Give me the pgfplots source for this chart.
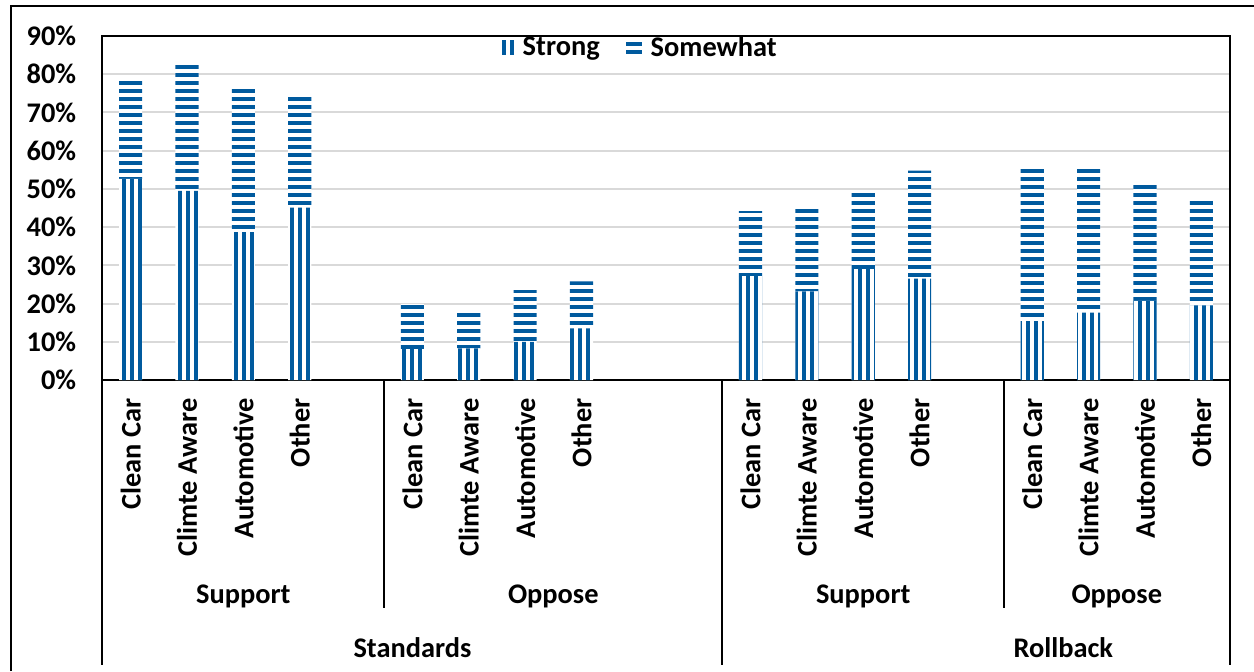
\documentclass[border=0pt]{standalone}
\usepackage{fontspec}
\setmainfont{Carlito}
\usepackage{pgfplots}
\pgfplotsset{compat=1.18}
\usetikzlibrary{patterns}
\definecolor{myblue}{RGB}{0,90,158}
\definecolor{gridgray}{RGB}{217,217,217}
\newcommand{\lbl}{\bfseries\fontsize{14.2pt}{16.5pt}\selectfont}
% wide tiles to avoid seams
\pgfdeclarepatternformonly{hstripes}{\pgfqpoint{-1pt}{0pt}}{\pgfqpoint{401pt}{4pt}}{\pgfqpoint{400pt}{4pt}}{%
  \pgfpathrectangle{\pgfqpoint{-1pt}{1pt}}{\pgfqpoint{402pt}{2pt}}\pgfusepath{fill}}
\pgfdeclarepatternformonly{vstripes}{\pgfqpoint{0pt}{-1pt}}{\pgfqpoint{4pt}{401pt}}{\pgfqpoint{4pt}{400pt}}{%
  \pgfpathrectangle{\pgfqpoint{1pt}{-1pt}}{\pgfqpoint{2pt}{402pt}}\pgfusepath{fill}}

\begin{document}
\begin{tikzpicture}
\useasboundingbox (0,0) rectangle (627pt,335.5pt);
\draw[line width=1pt] (5.5pt,0pt) -- (5.5pt,332.5pt) -- (627pt,332.5pt);
\begin{axis}[
  at={(51.25pt,145.5pt)}, anchor=south west,
  scale only axis, width=563.5pt, height=172pt,
  ybar stacked, bar width=0.41,
  xmin=-0.5, xmax=19.5, ymin=0, ymax=90,
  enlarge x limits=false,
  xtick={0,1,2,3,5,6,7,8,11,12,13,14,16,17,18,19},
  xticklabels={Clean Car,Climte Aware,Automotive,Other,Clean Car,Climte Aware,Automotive,Other,Clean Car,Climte Aware,Automotive,Other,Clean Car,Climte Aware,Automotive,Other},
  ytick={0,10,...,90},
  yticklabel={\pgfmathprintnumber{\tick}\%},
  /pgf/number format/assume math mode=true,
  major tick length=0pt,
  tick style={draw=none},
  ymajorgrids, grid style={line width=1pt, gridgray},
  axis line style={line width=1pt, black},
  tick label style={font=\lbl},
  xticklabel style={rotate=90, anchor=east, inner sep=0pt},
  yticklabel style={anchor=east, inner sep=0pt},
  xticklabel shift=9pt, yticklabel shift=13pt,
  clip=false,
  legend columns=2,
  legend style={at={(0.478,1)}, anchor=north, yshift=2pt, draw=none, fill=none, inner sep=0pt,
    font=\lbl, nodes={inner sep=2pt},
    /tikz/every even column/.append style={column sep=11pt},
    /tikz/every odd column/.append style={column sep=2.5pt}},
]
\addplot[draw=none, preaction={fill=white},
  pattern=vstripes, pattern color=myblue,
  legend image code/.code={\fill[myblue] (0pt,-3.75pt) rectangle (2pt,3.75pt); \fill[myblue] (4pt,-3.75pt) rectangle (6pt,3.75pt);}]
coordinates {(0,52.6) (1,49.5) (2,38.7) (3,45.1) (5,8.1) (6,8.3) (7,10.0) (8,13.5) (11,27.2) (12,23.2) (13,29.0) (14,26.5) (16,15.4) (17,17.6) (18,20.7) (19,19.5)};
\addplot[draw=none, preaction={fill=white},
  pattern=hstripes, pattern color=myblue,
  legend image code/.code={\fill[myblue] (0pt,-3pt) rectangle (8pt,-1pt); \fill[myblue] (0pt,1pt) rectangle (8pt,3pt);}]
coordinates {(0,25.9) (1,32.9) (2,37.7) (3,28.9) (5,11.8) (6,9.2) (7,13.5) (8,12.3) (11,17.0) (12,21.8) (13,20.2) (14,28.3) (16,40.1) (17,37.6) (18,30.7) (19,27.6)};
\legend{Strong,Somewhat}
\draw[line width=1pt] (axis cs:4.5,0) -- ++(0pt,-114pt);
\draw[line width=1pt] (axis cs:15.5,0) -- ++(0pt,-114pt);
\draw[line width=1pt] (axis cs:-0.5,0) -- ++(0pt,-142.5pt);
\draw[line width=1pt] (axis cs:10.5,0) -- ++(0pt,-142.5pt);
\draw[line width=1pt] (axis cs:19.5,0) -- ++(0pt,-142.5pt);
\node[font=\lbl, yshift=-108pt] at (axis cs:2,0) {Support};
\node[font=\lbl, yshift=-108pt] at (axis cs:7.5,0) {Oppose};
\node[font=\lbl, yshift=-108pt] at (axis cs:13,0) {Support};
\node[font=\lbl, yshift=-108pt] at (axis cs:17.5,0) {Oppose};
\node[font=\lbl, yshift=-134pt] at (axis cs:5,0) {Standards};
\node[font=\lbl, yshift=-134pt] at (axis cs:16.55,0) {Rollback};
\end{axis}
\end{tikzpicture}
\end{document}
